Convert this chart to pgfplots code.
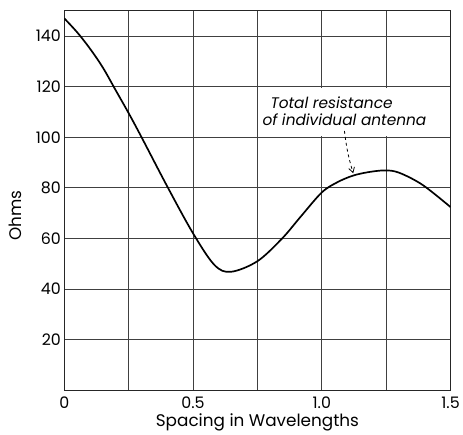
\documentclass[border=0pt]{standalone}
\usepackage{fontspec}
\setmainfont{Poppins}
\usepackage{pgfplots}
\pgfplotsset{compat=1.18}
\usetikzlibrary{arrows.meta}

\begin{document}
\begin{tikzpicture}
\begin{axis}[
  name=ax,
  scale only axis,
  width=390pt, height=383pt,
  xmin=0, xmax=1.5, ymin=0, ymax=150,
  xtick={0,0.5,1,1.5},
  xticklabels={0,0.5,1.0,1.5},
  minor xtick={0.25,0.75,1.25},
  ytick={20,40,...,140},
  grid=both,
  major grid style={black!75, line width=0.8pt},
  minor grid style={black!75, line width=0.8pt},
  axis line style={black!85, line width=0.9pt},
  major tick length=0pt, minor tick length=0pt,
  tick label style={font=\fontsize{16}{18}\selectfont},
  xticklabel style={yshift=-3pt},
  /pgf/number format/assume math mode=true,
  xlabel={Spacing in Wavelengths},
  ylabel={Ohms},
  label style={font=\fontsize{17}{19}\selectfont},
  xlabel style={at={(axis description cs:0.5,-0.086)}, anchor=center},
  ylabel style={at={(axis description cs:-0.128,0.46)}, anchor=center},
]
  \addplot[black, line width=1.7pt, smooth, tension=0.55] coordinates {
    (0,147) (0.05,141.5) (0.10,135) (0.15,127.5) (0.20,118.5) (0.25,109.5)
    (0.30,100) (0.40,80.5) (0.5,62) (0.583,49.5) (0.647,46.8)
    (0.75,51) (0.846,60) (0.917,68.5) (1.0,78.2) (1.06,82.2) (1.12,84.8)
    (1.18,86.2) (1.245,86.9) (1.30,86.0) (1.391,81.2) (1.5,72.4)
  };
  \fill[white] (axis cs:0.755,100.4) rectangle (axis cs:1.497,119.6);
  \node[anchor=west, font=\itshape\fontsize{15.5}{17}\selectfont, inner sep=0pt]
    at (axis cs:0.80,113.7) {Total resistance};
  \node[anchor=west, font=\itshape\fontsize{15.5}{17}\selectfont, inner sep=0pt]
    at (axis cs:0.769,106.8) {of individual antenna};
  \draw[black, dashed, line width=0.8pt, -{Straight Barb[length=5pt,width=6pt]}]
    (axis cs:1.088,102.5) to[bend right=5] (axis cs:1.122,85.8);
\end{axis}
\path ([shift={(-65pt,-43pt)}]ax.south west) rectangle ([shift={(8pt,11pt)}]ax.north east);
\end{tikzpicture}
\end{document}
